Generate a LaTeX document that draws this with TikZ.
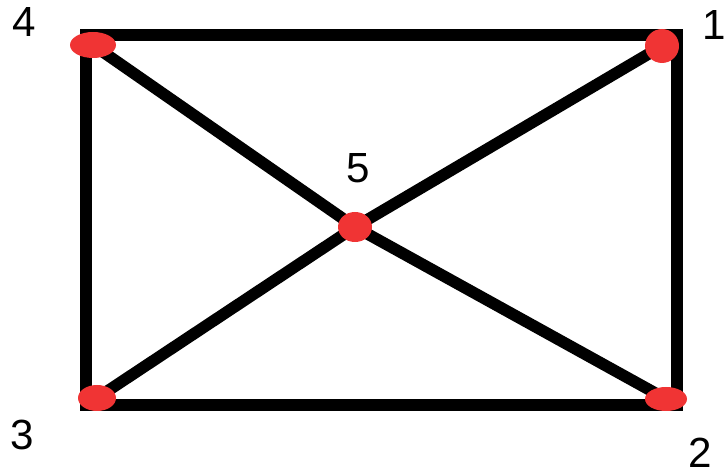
\documentclass[tikz,border=0pt]{standalone}
\usepackage{fontspec}
\setmainfont{Liberation Sans}
\definecolor{blobred}{RGB}{240,52,52}

\begin{document}
\begin{tikzpicture}[x=0.02cm, y=-0.02cm,
  edge/.style={line width=6.6pt},
  blob/.style={fill=blobred},
  lbl/.style={font=\fontsize{24}{28}\selectfont, inner sep=0pt}]
  \useasboundingbox (0,0) rectangle (726,475);
  % corners of the frame
  \coordinate (TL) at (86,35);
  \coordinate (TR) at (677,35);
  \coordinate (BR) at (677,405);
  \coordinate (BL) at (86,405);
  % vertices
  \coordinate (v1) at (662,46);
  \coordinate (v2) at (666,399);
  \coordinate (v3) at (97,398);
  \coordinate (v4) at (93,45);
  \coordinate (v5) at (355,227);

  \draw[edge] (TL) -- (TR) -- (BR) -- (BL) -- cycle;
  \draw[edge] (v4) -- (v5) -- (v2);
  \draw[edge] (v3) -- (v5) -- (v1);

  \fill[blob] (v1) ellipse (17 and 17);
  \fill[blob] (v2) ellipse (21 and 12);
  \fill[blob] (v3) ellipse (19 and 13);
  \fill[blob] (v4) ellipse (23 and 13);
  \fill[blob] (v5) ellipse (17 and 15);

  \node[lbl] (l4) at (24,22) {4};
  \node[lbl] (l1) at (714,25) {1};
  \node[lbl] (l5) at (358,168) {5};
  \node[lbl] (l3) at (22,435) {3};
  \node[lbl] (l2) at (700,453) {2};
\end{tikzpicture}
\end{document}
